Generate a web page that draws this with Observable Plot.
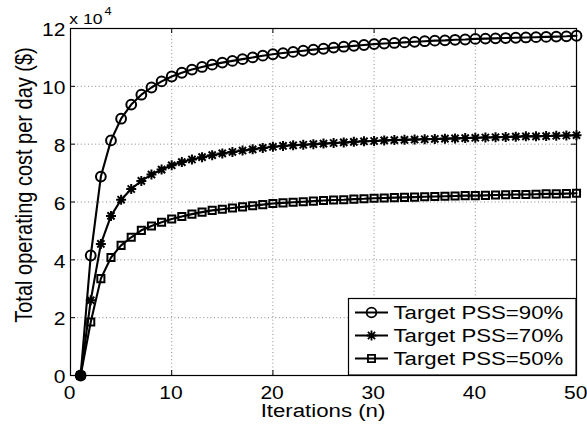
<!DOCTYPE html>
<html><head><meta charset="utf-8">
<script src="https://cdn.jsdelivr.net/npm/d3@7"></script>
<script src="https://cdn.jsdelivr.net/npm/@observablehq/plot@0.6"></script>
<style>
html,body{margin:0;padding:0;background:#fff;}
#chart svg{display:block;}
</style></head><body><div id="chart"></div>
<script>
// Iterations 1..50
const iterations = [1,2,3,4,5,6,7,8,9,10,11,12,13,14,15,16,17,18,19,20,21,22,23,24,25,26,27,28,29,30,31,32,33,34,35,36,37,38,39,40,41,42,43,44,45,46,47,48,49,50];
// Total operating cost per day, in units of 10^4 $
const cost90 = [0,4.15,6.88,8.13,8.88,9.37,9.71,9.96,10.17,10.34,10.47,10.58,10.67,10.75,10.82,10.88,10.94,11.00,11.06,11.11,11.15,11.19,11.23,11.27,11.30,11.34,11.37,11.40,11.43,11.46,11.48,11.50,11.52,11.54,11.56,11.58,11.59,11.61,11.62,11.64,11.65,11.66,11.67,11.68,11.69,11.70,11.71,11.72,11.73,11.75];
const cost70 = [0,2.6,4.55,5.52,6.08,6.45,6.73,6.95,7.12,7.27,7.38,7.47,7.55,7.62,7.68,7.73,7.78,7.82,7.87,7.91,7.94,7.96,7.98,8.00,8.02,8.04,8.06,8.08,8.10,8.11,8.13,8.14,8.15,8.16,8.17,8.18,8.19,8.20,8.21,8.22,8.23,8.24,8.25,8.26,8.27,8.27,8.28,8.29,8.30,8.31];
const cost50 = [0,1.85,3.35,4.08,4.50,4.78,5.02,5.17,5.30,5.41,5.50,5.58,5.65,5.71,5.75,5.79,5.83,5.87,5.91,5.95,5.97,5.99,6.01,6.03,6.05,6.07,6.08,6.10,6.11,6.13,6.14,6.15,6.16,6.17,6.18,6.19,6.20,6.21,6.22,6.22,6.23,6.24,6.25,6.26,6.26,6.27,6.28,6.28,6.29,6.30];
const seriesNames = ["Target PSS=90%","Target PSS=70%","Target PSS=50%"];
const xTicks = [0,10,20,30,40,50];
const yTicks = [0,2,4,6,8,10,12];
const xLabel = "Iterations (n)";
const yLabel = "Total operating cost per day ($)";
const yExponent = "4";

const W = 587, H = 427, mL = 70, mR = 11, mT = 28, mB = 52;
const pw = W - mL - mR, ph = H - mT - mB;
const FONT = "'Liberation Sans', Arial, Helvetica, sans-serif";
const SX = 1.17; // horizontal stretch of text seen in the reference

const star = {
  draw(ctx, size) {
    const r = Math.sqrt(size / Math.PI), d = r * 0.72;
    ctx.moveTo(-r, 0); ctx.lineTo(r, 0);
    ctx.moveTo(0, -r); ctx.lineTo(0, r);
    ctx.moveTo(-d, -d); ctx.lineTo(d, d);
    ctx.moveTo(-d, d); ctx.lineTo(d, -d);
  }
};
const symbols = [d3.symbolCircle, star, d3.symbolSquare];
const radii = [4.9, 5.0, 4.0];
const allCosts = [cost90, cost70, cost50];

const data = [];
allCosts.forEach((arr, s) => arr.forEach((v, i) => data.push({series: seriesNames[s], n: iterations[i], cost: v, s})));

const marks = [
  Plot.gridX(xTicks.slice(1, -1), {stroke: "#8a8a8a", strokeOpacity: 1, strokeWidth: 1, strokeDasharray: "1,2.6"}),
  Plot.gridY(yTicks.slice(1, -1), {stroke: "#8a8a8a", strokeOpacity: 1, strokeWidth: 1, strokeDasharray: "1,2.6"}),
  Plot.tickX(xTicks, {x: d => d, insetTop: ph - 5, stroke: "black", strokeWidth: 1}),
  Plot.tickX(xTicks, {x: d => d, insetBottom: ph - 5, stroke: "black", strokeWidth: 1}),
  Plot.tickY(yTicks, {y: d => d, insetRight: pw - 5, stroke: "black", strokeWidth: 1}),
  Plot.tickY(yTicks, {y: d => d, insetLeft: pw - 5, stroke: "black", strokeWidth: 1}),
  Plot.line(data, {x: "n", y: "cost", z: "series", stroke: "black", strokeWidth: 2.1}),
  ...symbols.map((sym, s) => Plot.dot(data.filter(d => d.s === s), {
    x: "n", y: "cost", symbol: sym, r: radii[s], stroke: "black", strokeWidth: 2, fill: "none"
  })),
  Plot.frame({stroke: "black", strokeWidth: 1.2}),
  Plot.axisX(xTicks, {tickSize: 0, tickPadding: 11, fontSize: 18, dx: -0.8, label: null, tickFormat: d => String(d)}),
  Plot.axisY(yTicks, {tickSize: 0, tickPadding: 5, fontSize: 18, label: null, dy: 2, tickFormat: d => String(d)})
];

const svg = Plot.plot({
  width: W, height: H,
  marginLeft: mL, marginRight: mR, marginTop: mT, marginBottom: mB,
  style: {fontFamily: FONT, background: "white", color: "black"},
  x: {domain: [0, 50], axis: null},
  y: {domain: [0, 12], axis: null},
  marks
});
document.getElementById("chart").appendChild(svg);

const sel = d3.select(svg);
const frameL = mL, frameR = W - mR, frameT = mT, frameB = H - mB;

function txt(g, size, anchor) {
  return g.append("text").attr("font-size", size).attr("font-family", FONT)
    .attr("fill", "black").attr("text-anchor", anchor);
}
// axis labels
txt(sel, 19, "middle").attr("x", (frameL + frameR) / 2).attr("y", frameB + 42).text(xLabel);
txt(sel, 20, "middle").attr("transform", `translate(31.7,185) rotate(-90)`).text(yLabel);
// exponent
txt(sel, 15, "start").attr("x", frameL - 0.7).attr("y", 24).text("x 10");
txt(sel, 11, "start").attr("x", frameL + 34.5).attr("y", 15.5).text(yExponent);

// legend
const lg = sel.append("g");
const lx0 = 348.5, ly0 = 298.5;
lg.append("rect").attr("x", lx0).attr("y", ly0).attr("width", frameR - lx0).attr("height", frameB - ly0)
  .attr("fill", "white").attr("stroke", "black").attr("stroke-width", 1.2);
seriesNames.forEach((name, s) => {
  const cy = 312.5 + s * 23;
  lg.append("line").attr("x1", 355).attr("x2", 388).attr("y1", cy).attr("y2", cy)
    .attr("stroke", "black").attr("stroke-width", 2);
  lg.append("path").attr("transform", `translate(371.5,${cy})`)
    .attr("d", d3.symbol(symbols[s], Math.PI * radii[s] * radii[s])())
    .attr("fill", "none").attr("stroke", "black").attr("stroke-width", 1.8);
  txt(lg, 19, "start").attr("x", 393.5).attr("y", cy).attr("dy", "0.35em").text(name);
});

// stretch all text horizontally about its anchor
function stretch(root, sx) {
  root.querySelectorAll("text").forEach(t => {
    const px = t.x.baseVal.numberOfItems ? t.x.baseVal.getItem(0).value : 0;
    const py = t.y.baseVal.numberOfItems ? t.y.baseVal.getItem(0).value : 0;
    const tl = t.transform.baseVal;
    const M = tl.numberOfItems ? tl.consolidate().matrix : root.createSVGMatrix();
    const qx = M.a * px + M.c * py + M.e, qy = M.b * px + M.d * py + M.f;
    const S = root.createSVGMatrix().translate(qx, qy).scaleNonUniform(sx, 1).translate(-qx, -qy);
    tl.initialize(root.createSVGTransformFromMatrix(S.multiply(M)));
  });
}
stretch(svg, SX);
</script></body></html>
